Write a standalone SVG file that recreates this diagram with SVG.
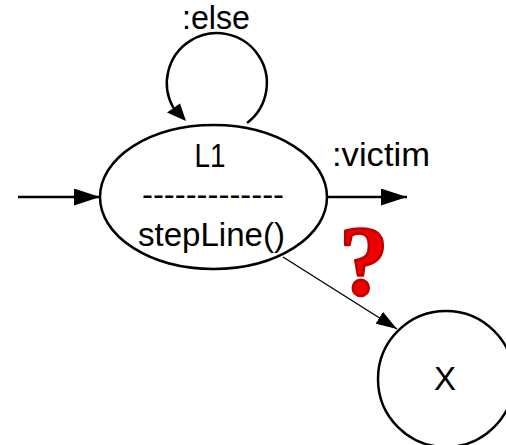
<svg xmlns="http://www.w3.org/2000/svg" width="506" height="445" viewBox="0 0 506 445">
  <style>
    .lbl { font-family: "Liberation Sans", Arial, sans-serif; font-size: 33px; fill: #000; }
    .node { fill: #fff; stroke: #000; stroke-width: 2.5; }
    .edge { fill: none; stroke: #000; stroke-width: 2.5; }
    .thin { fill: none; stroke: #000; stroke-width: 1.4; }
    .qmark { font-family: "Liberation Serif", "Times New Roman", serif; font-weight: bold; font-size: 99px; fill: #ee0000; stroke: #c00000; stroke-width: 2.5; stroke-linejoin: round; }
  </style>
  <defs>
    <marker id="head" viewBox="0 0 26 17" refX="26" refY="8.5" markerWidth="26" markerHeight="17" markerUnits="userSpaceOnUse" orient="auto">
      <path d="M0,0 L26,8.5 L0,17 z" fill="#000"/>
    </marker>
    <marker id="headThin" viewBox="0 0 21 14" refX="21" refY="7" markerWidth="21" markerHeight="14" markerUnits="userSpaceOnUse" orient="auto">
      <path d="M0,0 L21,7 L0,14 z" fill="#000"/>
    </marker>
  </defs>

  <!-- transitions -->
  <g id="connectors">
    <line class="edge" x1="18" y1="197" x2="100" y2="197" marker-end="url(#head)"/>
    <line class="edge" x1="327" y1="197" x2="407" y2="197" marker-end="url(#head)"/>
    <!-- self loop on L1 -->
    <path class="edge" d="M247,123 A50,50 0 1,0 173.5,108"/>
    <polygon points="167,112.5 180,103.5 186,121" fill="#000"/>
    <line class="thin" x1="283" y1="257" x2="397" y2="329" marker-end="url(#headThin)"/>
    <text class="lbl" x="216" y="29" text-anchor="middle" textLength="68" lengthAdjust="spacingAndGlyphs">:else</text>
    <text class="lbl" x="332" y="166" textLength="98" lengthAdjust="spacingAndGlyphs">:victim</text>
    <text class="qmark" x="364" y="294" text-anchor="middle">?</text>
  </g>

  <!-- state L1 -->
  <g id="L1">
    <ellipse class="node" cx="213.5" cy="197" rx="113.5" ry="72"/>
    <text class="lbl" x="210" y="167" text-anchor="middle" textLength="31" lengthAdjust="spacingAndGlyphs">L1</text>
    <text class="lbl" x="213" y="206" text-anchor="middle" textLength="142" lengthAdjust="spacingAndGlyphs">-------------</text>
    <text class="lbl" x="211.5" y="246" text-anchor="middle" textLength="147" lengthAdjust="spacingAndGlyphs">stepLine()</text>
  </g>

  <!-- state X -->
  <g id="X">
    <circle class="node" cx="446" cy="379" r="68"/>
    <text class="lbl" x="445" y="390" text-anchor="middle">X</text>
  </g>
</svg>
